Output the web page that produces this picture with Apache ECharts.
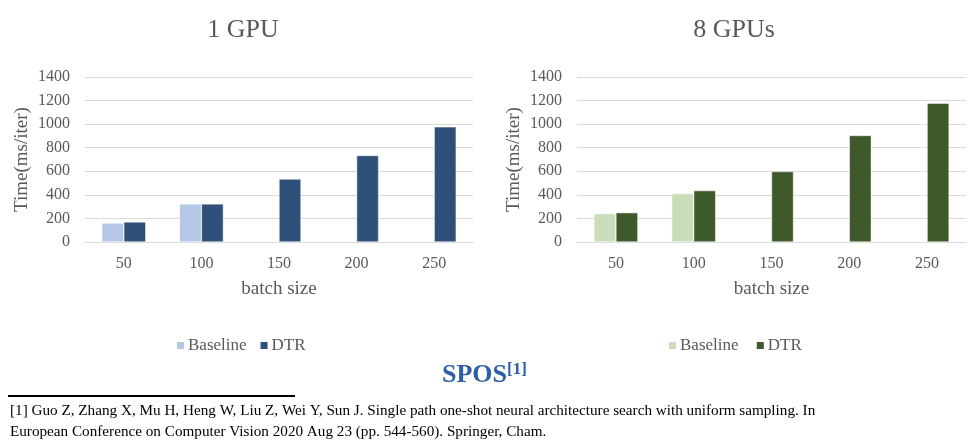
<!DOCTYPE html>
<html>
<head>
<meta charset="utf-8">
<script src="https://cdn.jsdelivr.net/npm/echarts@6/dist/echarts.min.js"></script>
<style>
  html, body { margin: 0; padding: 0; background: #fff; }
  #main { width: 975px; height: 446px; }
</style>
</head>
<body>
<div id="main"></div>
<script>
// batch sizes on the x axis
const batchSizes = ['50', '100', '150', '200', '250']
// 1 GPU, ms/iter
const baseline1 = [161, 323, null, null, null]
const dtr1 = [170, 323, 535, 734, 977]
// 8 GPUs, ms/iter
const baseline8 = [241, 411, null, null, null]
const dtr8 = [249, 436, 598, 904, 1178]

const serif = '"Liberation Serif", "DejaVu Serif", serif'
const grey = '#595959'

const chart = echarts.init(document.getElementById('main'))

function xAxisOf (idx) {
  return {
    type: 'category',
    gridIndex: idx,
    data: batchSizes,
    axisTick: { show: false },
    axisLine: { lineStyle: { color: '#d9d9d9' } },
    axisLabel: { color: grey, fontFamily: serif, fontSize: 16, margin: 14 },
    name: 'batch size',
    nameLocation: 'middle',
    nameGap: 38,
    nameTextStyle: { color: grey, fontFamily: serif, fontSize: 19 }
  }
}

function yAxisOf (idx) {
  return {
    type: 'value',
    gridIndex: idx,
    min: 0,
    max: 1400,
    interval: 200,
    axisLine: { show: false },
    axisTick: { show: false },
    splitLine: { lineStyle: { color: '#d9d9d9' } },
    axisLabel: {
      color: grey,
      fontFamily: serif,
      fontSize: 16,
      margin: 15,
      formatter: v => String(v)
    },
    name: 'Time(ms/iter)',
    nameLocation: 'middle',
    nameGap: 53,
    nameTextStyle: { color: grey, fontFamily: serif, fontSize: 19 }
  }
}

function barOf (name, data, idx, color) {
  return {
    name: name,
    type: 'bar',
    xAxisIndex: idx,
    yAxisIndex: idx,
    data: data,
    barWidth: 22,
    barGap: '0%',
    itemStyle: { color: color, borderColor: '#fff', borderWidth: 0.5 }
  }
}

const legendText = { color: grey, fontFamily: serif, fontSize: 17, padding: [0, 0, 0, -2] }

const option = {
  backgroundColor: '#fff',
  animation: false,
  title: [
    {
      text: '1 GPU',
      left: 238,
      top: 12,
      textAlign: 'center',
      textStyle: { color: grey, fontFamily: serif, fontSize: 26, fontWeight: 'normal' }
    },
    {
      text: '8 GPUs',
      left: 729,
      top: 12,
      textAlign: 'center',
      textStyle: { color: grey, fontFamily: serif, fontSize: 26, fontWeight: 'normal' }
    }
  ],
  legend: [
    {
      data: ['Baseline', 'DTR'],
      left: 170,
      top: 332,
      itemWidth: 9,
      itemHeight: 9,
      itemGap: 12,
      icon: 'rect',
      textStyle: legendText
    },
    {
      data: ['Baseline ', 'DTR '],
      left: 662,
      top: 332,
      itemWidth: 9,
      itemHeight: 9,
      itemGap: 12,
      icon: 'rect',
      textStyle: legendText
    }
  ],
  grid: [
    { left: 85, right: 502, top: 77, bottom: 204 },
    { left: 577, right: 9, top: 77, bottom: 204 }
  ],
  xAxis: [xAxisOf(0), xAxisOf(1)],
  yAxis: [yAxisOf(0), yAxisOf(1)],
  series: [
    barOf('Baseline', baseline1, 0, '#b4c7e7'),
    barOf('DTR', dtr1, 0, '#2f5078'),
    barOf('Baseline ', baseline8, 1, '#c9ddb8'),
    barOf('DTR ', dtr8, 1, '#3e5a2a')
  ],
  graphic: [
    {
      type: 'text',
      left: 442,
      top: 361,
      style: {
        text: '{m|SPOS}{s|[1]}',
        rich: {
          m: { fontFamily: serif, fontSize: 26, fontWeight: 'bold', fill: '#2e5ea8', verticalAlign: 'bottom' },
          s: { fontFamily: serif, fontSize: 17, fontWeight: 'bold', fill: '#2e5ea8', verticalAlign: 'top', padding: [0, 0, 10, 0] }
        }
      }
    },
    {
      type: 'line',
      shape: { x1: 8, y1: 396, x2: 295, y2: 396 },
      style: { stroke: '#000', lineWidth: 2 }
    },
    {
      type: 'text',
      left: 10,
      top: 401,
      style: {
        text: '[1] Guo Z, Zhang X, Mu H, Heng W, Liu Z, Wei Y, Sun J. Single path one-shot neural architecture search with uniform sampling. In\nEuropean Conference on Computer Vision 2020 Aug 23 (pp. 544-560). Springer, Cham.',
        fontFamily: serif,
        fontSize: 15.2,
        lineHeight: 21,
        fill: '#000'
      }
    }
  ]
}

chart.setOption(option)
</script>
</body>
</html>
